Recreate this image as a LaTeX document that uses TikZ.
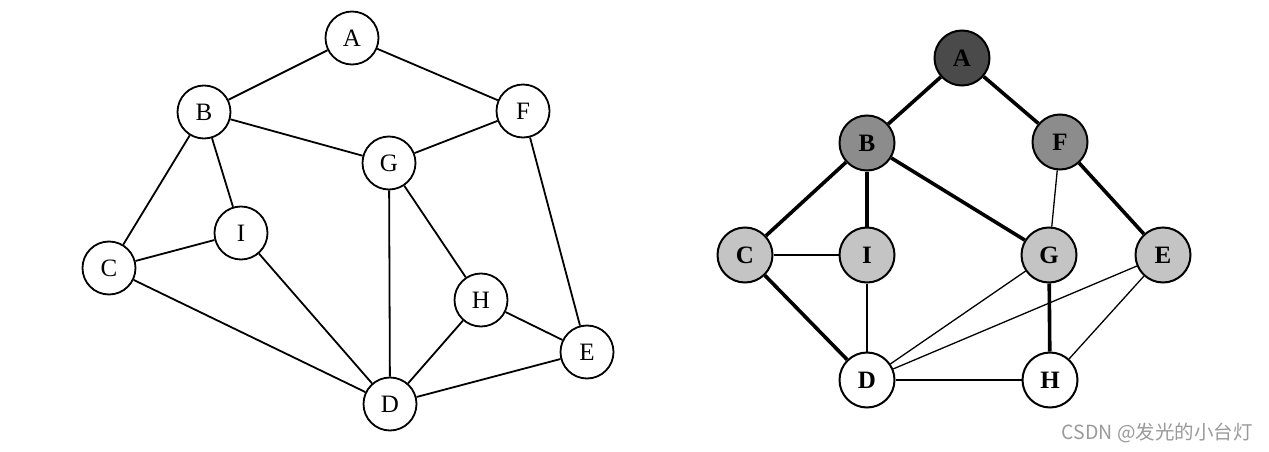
\documentclass[tikz,border=0pt]{standalone}
\usepackage{fontspec}
\setmainfont{Liberation Serif}
\newfontfamily\cjk{Noto Sans CJK SC}
\definecolor{darkfill}{HTML}{4A4A4A}
\definecolor{midfill}{HTML}{8C8C8C}
\definecolor{lightfill}{HTML}{C4C4C4}
\definecolor{wmark}{HTML}{9A9A9A}
\begin{document}
\begin{tikzpicture}[x=1pt,y=-1pt,
  vtx/.style={circle,draw=black,line width=1.8pt,fill=white,minimum size=53pt,inner sep=0pt,
    font=\fontsize{25}{25}\selectfont},
  rvtx/.style={vtx,minimum size=55pt,line width=2pt,font=\fontsize{25}{25}\selectfont\bfseries},
  edge/.style={line width=1.8pt},
  thick edge/.style={line width=3.6pt},
  thin edge/.style={line width=1.3pt}]
\useasboundingbox (0,0) rectangle (1269,452);
% ---------- left graph ----------
\node[vtx] (A) at (352,38) {A};
\node[vtx] (B) at (204,112) {B};
\node[vtx] (F) at (523,111) {F};
\node[vtx] (G) at (389,163) {G};
\node[vtx] (I) at (241,233) {I};
\node[vtx] (C) at (109,268) {C};
\node[vtx] (H) at (481,300) {H};
\node[vtx] (E) at (587,352) {E};
\node[vtx] (D) at (390,404) {D};
\draw[edge] (A) -- (B);
\draw[edge] (A) -- (F);
\draw[edge] (B) -- (G);
\draw[edge] (F) -- (G);
\draw[edge] (B) -- (C);
\draw[edge] (B) -- (I);
\draw[edge] (C) -- (I);
\draw[edge] (C) -- (D);
\draw[edge] (I) -- (D);
\draw[edge] (G) -- (D);
\draw[edge] (G) -- (H);
\draw[edge] (F) -- (E);
\draw[edge] (H) -- (E);
\draw[edge] (H) -- (D);
\draw[edge] (D) -- (E);
% ---------- right graph ----------
\node[rvtx,fill=darkfill] (rA) at (962,58) {A};
\node[rvtx,fill=midfill] (rB) at (867,143) {B};
\node[rvtx,fill=midfill] (rF) at (1060,142) {F};
\node[rvtx,fill=lightfill] (rC) at (745,255) {C};
\node[rvtx,fill=lightfill] (rI) at (867,255) {I};
\node[rvtx,fill=lightfill] (rG) at (1049,255) {G};
\node[rvtx,fill=lightfill] (rE) at (1163,255) {E};
\node[rvtx] (rD) at (867,380) {D};
\node[rvtx] (rH) at (1050,380) {H};
\draw[thick edge] (rA) -- (rB);
\draw[thick edge] (rA) -- (rF);
\draw[thick edge] (rB) -- (rC);
\draw[thick edge] (rB) -- (rI);
\draw[thick edge] (rB) -- (rG);
\draw[thick edge] (rF) -- (rE);
\draw[thick edge] (rC) -- (rD);
\draw[thick edge] (rG) -- (rH);
\draw[thin edge] (rF) -- (rG);
\draw[thin edge] (rC) -- (rI);
\draw[thin edge] (rI) -- (rD);
\draw[thin edge] (rG) -- (rD);
\draw[thin edge] (rE) -- (rD);
\draw[thin edge] (rE) -- (rH);
\draw[thin edge] (rD) -- (rH);
% ---------- watermark ----------
\node[anchor=east,text=wmark,inner sep=0pt,font=\cjk\fontsize{19.5}{19.5}\selectfont] (wm) at (1253,433) {CSDN @发光的小台灯};
\end{tikzpicture}
\end{document}
